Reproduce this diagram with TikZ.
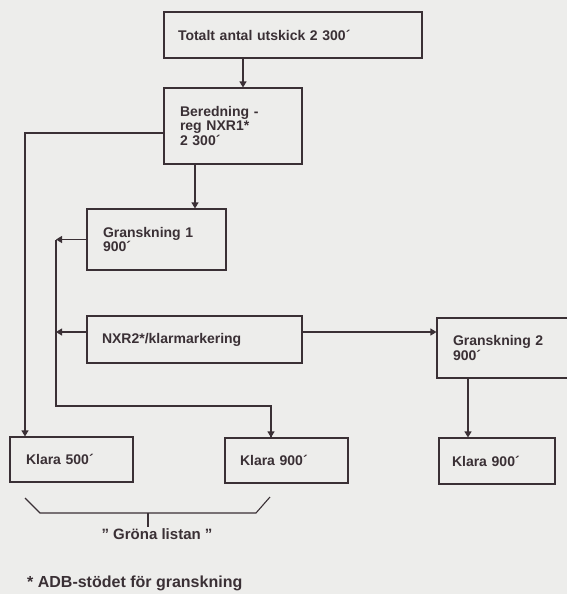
\documentclass[tikz,border=0pt]{standalone}
\usepackage{fontspec}
\setmainfont{Liberation Sans}
\usetikzlibrary{arrows.meta,calc}
\definecolor{ink}{HTML}{3A3035}
\definecolor{paper}{HTML}{EDEDEB}
\tikzset{
  box/.style={draw=ink, line width=1.1pt, rectangle, align=left, text=ink,
    font=\bfseries\fontsize{14}{14.5}\selectfont, anchor=center, inner ysep=0pt},
  conn/.style={draw=ink, line width=1.1pt},
  arr/.style={conn, -{Triangle[width=7pt,length=6pt]}},
  lbl/.style={text=ink, font=\bfseries\fontsize{15}{16}\selectfont, inner sep=0pt}
}
\begin{document}
\begin{tikzpicture}[x=1pt,y=-1pt]
\fill[paper] (0,0) rectangle (567,594);
\useasboundingbox (0,0) rectangle (567,594);
\clip (0,0) rectangle (567,594);
% boxes
\node[box, minimum width=258pt, minimum height=46pt, text width=230pt] (tot) at (293,35) {Totalt antal utskick 2 300´};
\node[box, minimum width=138pt, minimum height=76pt, text width=106pt] (ber) at (233,126) {Beredning -\\reg NXR1*\\2 300´};
\node[box, minimum width=139pt, minimum height=61pt, text width=107pt] (g1) at (156.5,239.5) {Granskning 1\\900´};
\node[box, minimum width=215pt, minimum height=47pt, text width=185pt] (nxr) at (194.5,339.5) {NXR2*/klarmarkering};
\node[box, minimum width=140pt, minimum height=60pt, text width=108pt] (g2) at (507,348) {Granskning 2\\900´};
\node[box, minimum width=123pt, minimum height=45pt, text width=91pt] (k500) at (71.5,459.5) {Klara 500´};
\node[box, minimum width=123pt, minimum height=45pt, text width=93pt] (k900m) at (286.5,460.5) {Klara 900´};
\node[box, minimum width=116pt, minimum height=46pt, text width=90pt] (k900r) at (497,461) {Klara 900´};
% bus coordinates
\coordinate (busx) at (56,0);
\coordinate (busbot) at (56,406);
% connectors
\draw[arr] ([xshift=-50pt]tot.south) -- ([xshift=-50pt]tot.south |- ber.north);
\draw[arr] ([xshift=-38pt]ber.south) -- ([xshift=-38pt]ber.south |- g1.north);
\draw[arr] ([yshift=-7pt]ber.west) -| ([xshift=-46.5pt]k500.north);
\draw[arr] (g1.west) -- (g1.west -| busx);
\draw[arr] ([yshift=7.5pt]nxr.west) -- ([yshift=7.5pt]nxr.west -| busx);
\draw[conn] (g1.west -| busx) -- (busbot) -| ([xshift=-15.5pt]k900m.north);
\draw[arr] ([xshift=-15.5pt]k900m.north |- busbot) -- ([xshift=-15.5pt]k900m.north);
\draw[arr] ([yshift=7.5pt]nxr.east) -- ([yshift=7.5pt]nxr.east -| g2.west);
\draw[arr] ([xshift=-29pt]k900r.north |- g2.south) -- ([xshift=-29pt]k900r.north);
% bracket for Gröna listan
\coordinate (b1) at (25,498);
\coordinate (b2) at (40,513);
\coordinate (b3) at (256,513);
\coordinate (b4) at (270,497);
\coordinate (tk) at (148,513);
\coordinate (tkb) at (148,527);
\draw[conn] (b1) -- (b2) -- (b3) -- (b4);
\draw[conn] (tk) -- (tkb);
\node[lbl] (gron) at (157,534) {" Gröna listan "};
\node[lbl, anchor=west, font=\bfseries\fontsize{16}{17}\selectfont] (fot) at (27,583) {* ADB-stödet för granskning};
\end{tikzpicture}
\end{document}
